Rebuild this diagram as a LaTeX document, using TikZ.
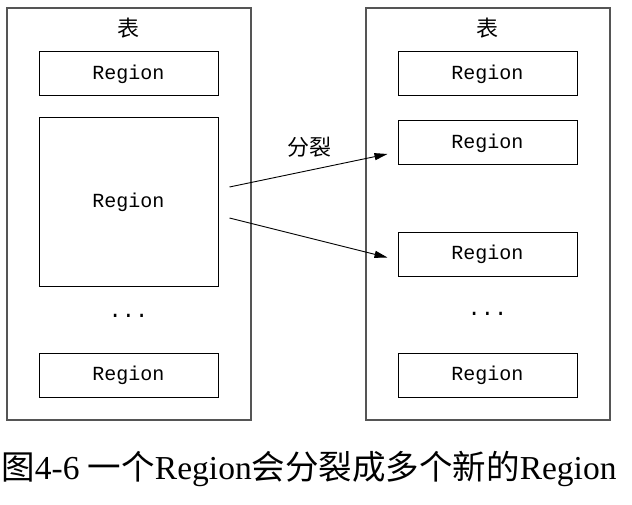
\documentclass[tikz,border=0pt]{standalone}
\usepackage{fontspec}
\setmainfont{Liberation Serif}
\setmonofont{Liberation Mono}
\newfontfamily\cjk{Noto Sans CJK SC}
\usepackage{tikz}
\usetikzlibrary{arrows.meta,positioning}
\definecolor{frameGray}{RGB}{85,85,85}
\newcommand{\zh}[1]{{\cjk #1}}
\tikzset{
  tblframe/.style={draw=frameGray, line width=1.2pt, minimum width=244pt, minimum height=412pt, inner sep=0pt},
  regbox/.style={draw=black, line width=1pt, minimum width=179pt, minimum height=44pt, inner sep=0pt,
    font=\ttfamily\fontsize{20}{24}\selectfont},
  tbltitle/.style={font=\cjk\fontsize{22}{26}\selectfont},
  dotsnode/.style={font=\ttfamily\fontsize{22}{26}\selectfont},
  splitarrow/.style={line width=0.9pt, -{Triangle[length=13pt,width=7pt]}}
}

\begin{document}
\begin{tikzpicture}[x=1pt,y=-1pt]
\useasboundingbox (0,0) rectangle (632,505);

% left table
\node[tblframe] (tblL) at (129,214) {};
\node[tbltitle] (titleL) at (128,28) {表};
\node[regbox] (l1) at (128.5,74) {Region};
\node[regbox, minimum height=168pt] (lbig) at (128.5,202) {Region};
\node[dotsnode] (dotsL) at (128.5,316) {...};
\node[regbox] (l4) at (128.5,375) {Region};

% right table
\node[tblframe] (tblR) at (488,214) {};
\node[tbltitle] (titleR) at (487,28) {表};
\node[regbox] (r1) at (487.5,74) {Region};
\node[regbox] (r2) at (487.5,143) {Region};
\node[regbox] (r3) at (487.5,254.5) {Region};
\node[dotsnode] (dotsR) at (487.5,314) {...};
\node[regbox] (r4) at (487.5,375) {Region};

% split arrows
\draw[splitarrow] ([xshift=11pt,yshift=15pt]lbig.east) -- ([xshift=-10pt,yshift=-11pt]r2.west);
\draw[splitarrow] ([xshift=11pt,yshift=-16pt]lbig.east) -- ([xshift=-10pt,yshift=-3pt]r3.west);
\node[tbltitle] (splitlbl) at (309,147) {分裂};

\node[font=\fontsize{33.5}{38}\selectfont] (caption) at (309,469)
  {\zh{图}4-6 \zh{一个}Region\zh{会分裂成多个新的}Region};
\end{tikzpicture}
\end{document}
